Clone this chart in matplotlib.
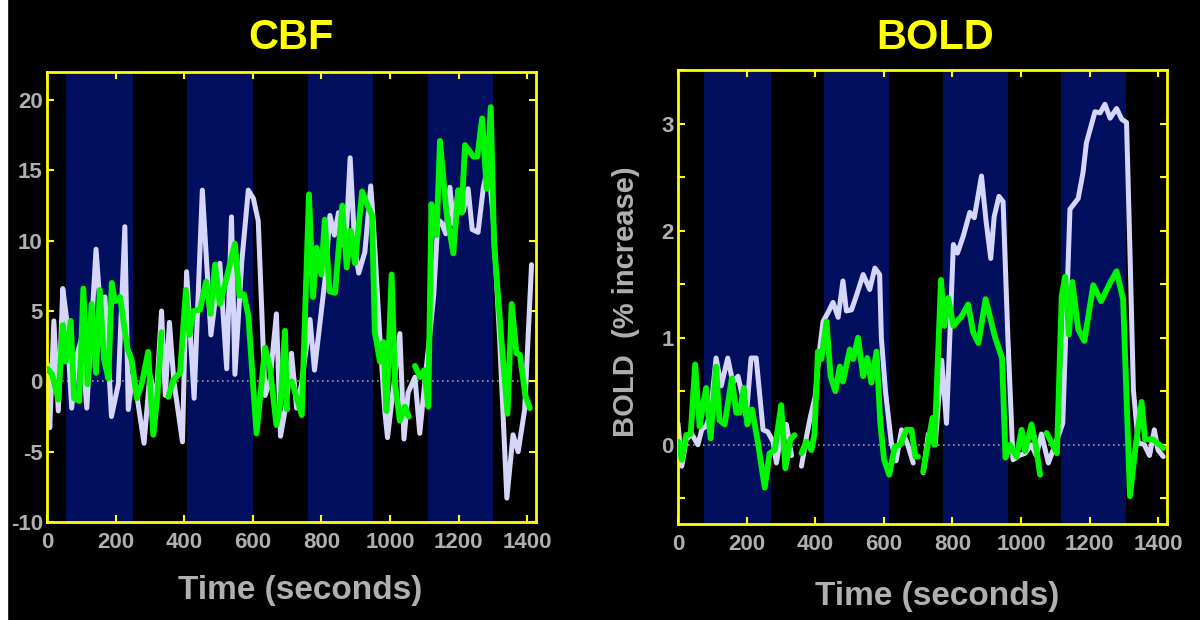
import numpy as np
import matplotlib
matplotlib.use("Agg")
import matplotlib.pyplot as plt
from matplotlib.ticker import MultipleLocator, FuncFormatter
from matplotlib.patches import Rectangle

plt.rcParams['font.family'] = ['Liberation Sans', 'DejaVu Sans']
plt.rcParams['font.weight'] = 'bold'
plt.rcParams['axes.unicode_minus'] = False

nan = np.nan

# stimulus blocks (start, end), seconds
cbf_blocks = [(55, 251), (408, 601), (761, 950), (1111, 1300)]
bold_blocks = [(77, 271), (425, 615), (772, 962), (1117, 1307)]

# CBF, lavender trace
cbf_white_t = [1, 8, 20, 33, 46, 57, 72, 86, 101, 116, 143, 154, 169, 188, 208, 227, 237, 250, 262, 283,
               300, 318, 334, 345, 357, 370, 395, 407, 429, 453, 478, 504, 524, 538, 548, 568, 587, 602, 616, 636,
               650, 669, 681, 697, 713, 728, 742, 767, 780, 811, 825, 838, 850, 860, 874, 884, 898, 909, 927, 944,
               951, 970, 985, 993, 1010, 1029, 1041, 1053, 1073, 1087, 1102, 1115, 1128, 1140, 1150, 1163, 1175, 1185, 1199, 1214,
               1228, 1240, 1257, 1272, 1287, 1300, 1320, 1341, 1359, 1374, 1393, 1413]
cbf_white_v = [1.2, -3.3, 4.3, -2.1, 6.6, 4.5, -1.9, 1.7, 3.1, -1.9, 9.4, 5.7, 6.0, -2.5, -0.2, 11.0, -2.0, 0.5, -1.0, -4.4,
               0.5, -1.5, 5.0, -1.0, 4.2, 0.0, -4.3, 7.8, -1.2, 13.6, 3.3, 8.4, 0.9, 11.7, 0.5, 8.5, 13.6, 13.0, 11.4, -1.0,
               0.0, 4.8, -3.9, -1.7, 2.0, -1.9, -0.2, 4.4, 0.8, 7.3, 11.8, 10.4, 12.0, 9.7, 11.0, 15.9, 9.4, 7.7, 9.2, 13.9,
               11.6, 3.4, -2.1, -4.0, -0.5, 3.4, -4.1, -0.8, 0.3, -3.7, 0.0, 3.0, 6.2, 11.5, 11.3, 10.5, 13.8, 11.2, 13.5, 12.1,
               13.7, 10.8, 10.6, 13.7, 15.5, 12.0, 3.0, -8.3, -3.8, -5.0, -2.0, 8.3]

# CBF, green trace
cbf_green_t = [1, 15, 33, 46, 55, 69, 79, 94, 106, 118, 130, 143, 154, 166, 179, 189, 198, 213, 234, 247,
               262, 276, 295, 310, 322, 334, 344, 354, 368, 388, 405, 415, 427, 446, 464, 477, 490, 504, 520, 548,
               561, 574, 587, 611, 636, 650, 669, 681, 694, 700, 707, 714, 743, 764, 776, 786, 800, 810, 824, 840,
               861, 874, 886, 898, 919, 935, 948, 956, 971, 981, 990, 1005, 1015, 1029, 1044, 1055, 1064, 1073, 1088, 1100,
               1112, 1121, 1136, 1146, 1165, 1185, 1199, 1209, 1219, 1243, 1255, 1269, 1282, 1294, 1304, 1325, 1343, 1355, 1369, 1379,
               1395, 1408]
cbf_green_v = [0.9, 0.5, -1.3, 4.0, 1.4, 4.3, -1.2, -1.4, 6.6, -0.2, 5.5, 0.6, 6.5, 1.6, 0.2, 7.0, 5.7, 6.0, 2.4, 1.5,
               -1.2, -0.2, 2.1, -3.8, -1.0, 3.5, nan, -1.1, 0.1, 0.6, 6.5, 3.3, 5.0, 5.1, 7.1, 4.8, 8.3, 5.5, 7.0, 9.8,
               6.1, 6.2, 4.7, -3.7, 2.4, 1.0, -3.1, -1.5, 3.6, -2.0, nan, 0.0, -2.4, 13.3, 6.0, 9.5, 7.6, 11.5, 6.4, 6.3,
               12.5, 8.1, 10.7, 8.4, 13.5, 12.5, 11.8, 3.5, 1.4, 2.8, -2.1, 7.6, -0.2, -2.8, -1.8, -2.5, nan, 1.1, 0.3, 0.8,
               -1.8, 12.6, 10.4, 17.1, 12.0, 9.1, 13.6, 12.0, 16.8, 16.0, 16.0, 18.7, 13.7, 19.5, 9.7, 3.0, -2.3, 5.5, 2.0, 1.9,
               -1.0, -1.9]

# BOLD, lavender trace
bold_white_t = [0, 11, 24, 40, 58, 70, 82, 95, 111, 126, 145, 160, 175, 188, 199, 213, 228, 248, 262, 277,
                287, 301, 316, 331, 345, 360, 375, 386, 400, 413, 423, 440, 452, 467, 481, 491, 506, 520, 540, 559,
                574, 588, 593, 605, 622, 636, 652, 670, 686, 700, 715, 730, 750, 769, 783, 803, 815, 832, 851, 864,
                885, 898, 912, 922, 936, 948, 962, 977, 995, 1012, 1030, 1045, 1060, 1080, 1100, 1122, 1143, 1167, 1181,
                1191, 1216, 1231, 1245, 1260, 1279, 1294, 1308, 1318, 1328, 1342, 1360, 1375, 1389, 1400, 1415]
bold_white_v = [0.2, -0.2, 0.05, 0.1, 0.0, 0.15, 0.17, 0.3, 0.81, 0.55, 0.81, 0.58, 0.64, 0.45, 0.26, 0.81, 0.81, 0.14, 0.12, 0.03,
                -0.17, 0.1, 0.19, -0.1, nan, -0.2, 0.08, 0.26, 0.45, 0.89, 1.15, 1.25, 1.33, 1.19, 1.53, 1.25, 1.26, 1.39, 1.59, 1.45,
                1.65, 1.59, 1.0, 0.5, 0.02, -0.15, 0.14, 0.0, -0.17, nan, -0.26, 0.1, 0.0, 0.79, 0.2, 1.87, 1.79, 1.95, 2.17, 2.12,
                2.51, 2.1, 1.74, 2.13, 2.32, 2.27, 1.0, -0.14, -0.1, -0.08, 0.0, -0.1, 0.1, -0.17, 0.0, 0.2, 2.2, 2.30, 2.54,
                2.82, 3.11, 3.10, 3.18, 3.05, 3.14, 3.04, 3.01, 1.8, 0.51, 0.02, 0.0, -0.1, 0.14, -0.05, -0.11]

# BOLD, green trace
bold_green_t = [0, 11, 24, 37, 50, 63, 72, 82, 95, 111, 121, 136, 157, 170, 180, 192, 202, 216, 233, 253,
                267, 282, 301, 313, 328, 340, 350, 360, 374, 389, 398, 408, 418, 433, 445, 459, 472, 481, 501, 511,
                525, 540, 552, 564, 579, 590, 601, 616, 632, 648, 666, 681, 692, 700, 708, 715, 742, 748, 767, 777,
                788, 803, 827, 846, 861, 876, 897, 924, 945, 955, 968, 987, 1002, 1012, 1031, 1043, 1056, 1065, 1075, 1105,
                1119, 1129, 1140, 1150, 1167, 1185, 1211, 1234, 1258, 1279, 1298, 1318, 1335, 1352, 1362, 1385, 1415]
bold_green_v = [0.03, -0.14, 0.09, 0.1, 0.75, 0.17, 0.35, 0.53, 0.06, 0.73, 0.23, 0.19, 0.62, 0.30, 0.3, 0.53, 0.19, 0.33, 0.02, -0.40,
                -0.08, -0.05, 0.37, -0.22, 0.05, 0.09, nan, -0.08, 0.03, -0.05, 0.1, 0.87, 0.80, 1.15, 0.64, 0.50, 0.73, 0.59, 0.89, 0.80,
                1.00, 0.64, 0.81, 0.58, 0.87, 0.2, -0.14, -0.28, -0.02, 0.0, 0.14, 0.14, -0.11, -0.11, nan, -0.25, 0.25, 0.0, 1.54, 1.11,
                1.37, 1.11, 1.20, 1.31, 1.05, 0.95, 1.36, 1.01, 0.81, -0.12, 0.0, -0.11, 0.14, -0.06, 0.19, 0.0, -0.28, nan, 0.11, -0.08,
                1.39, 1.57, 1.03, 1.52, 1.08, 0.97, 1.49, 1.34, 1.5, 1.62, 1.36, -0.48, 0.0, 0.40, 0.05, 0.05, -0.03]

YELLOW = '#ffff00'
BLUE = '#020e5e'
LAVENDER = '#d6d6fb'
GREEN = '#00f500'
GRAY = '#b0b0b0'

W, H = 1200, 620
fig = plt.figure(figsize=(W / 100, H / 100), dpi=100, facecolor='black')
fig.patches.append(Rectangle((0, 0), 7 / W, 1, transform=fig.transFigure, color='white', zorder=10))


def px_axes(x0, y0, x1, y1):
    return fig.add_axes([x0 / W, 1 - y1 / H, (x1 - x0) / W, (y1 - y0) / H])


def draw_panel(ax, blocks, wt, wv, gt, gv, ylim):
    ax.set_facecolor('black')
    for a, b in blocks:
        ax.axvspan(a, b, color=BLUE, lw=0, zorder=0)
    ax.axhline(0, color='#9a9a9a', lw=1.2, ls=(0, (1, 2)), zorder=1)
    ax.plot(wt, wv, color=LAVENDER, lw=3.6, zorder=2, solid_joinstyle='round', solid_capstyle='round')
    ax.plot(gt, gv, color=GREEN, lw=4.2, zorder=3, solid_joinstyle='round', solid_capstyle='round')
    ax.set_xlim(0, 1426)
    ax.set_ylim(*ylim)
    ax.xaxis.set_major_locator(MultipleLocator(200))
    for s in ax.spines.values():
        s.set_color(YELLOW)
        s.set_linewidth(2)
    ax.tick_params(which='both', direction='in', length=5, width=1.5, colors=YELLOW,
                   top=True, right=True, labelsize=16, labelcolor=GRAY)
    ax.tick_params(axis='x', pad=7)
    ax.tick_params(axis='y', pad=3)


ax1 = px_axes(47, 72, 536, 522)
draw_panel(ax1, cbf_blocks, cbf_white_t, cbf_white_v, cbf_green_t, cbf_green_v, (-10, 22))
ax1.yaxis.set_major_locator(MultipleLocator(5))

ax2 = px_axes(678, 70, 1167, 524)
draw_panel(ax2, bold_blocks, bold_white_t, bold_white_v, bold_green_t, bold_green_v, (-0.74, 3.5))
ax2.yaxis.set_major_locator(MultipleLocator(0.5))
ax2.yaxis.set_major_formatter(FuncFormatter(lambda v, p: '%d' % round(v) if abs(v - round(v)) < 1e-6 else ''))


def ftext(x, y, s, **kw):
    fig.text(x / W, 1 - y / H, s, ha='center', va='center', **kw)


ftext(291, 38, 'CBF', color=YELLOW, fontsize=30)
ftext(935, 38, 'BOLD', color=YELLOW, fontsize=30)
ftext(300, 591, 'Time (seconds)', color=GRAY, fontsize=24)
ftext(937, 596, 'Time (seconds)', color=GRAY, fontsize=24)
ftext(626, 302, 'BOLD  (% increase)', color=GRAY, fontsize=21, rotation=90)

fig.savefig('out.png', dpi=100, facecolor='black')
